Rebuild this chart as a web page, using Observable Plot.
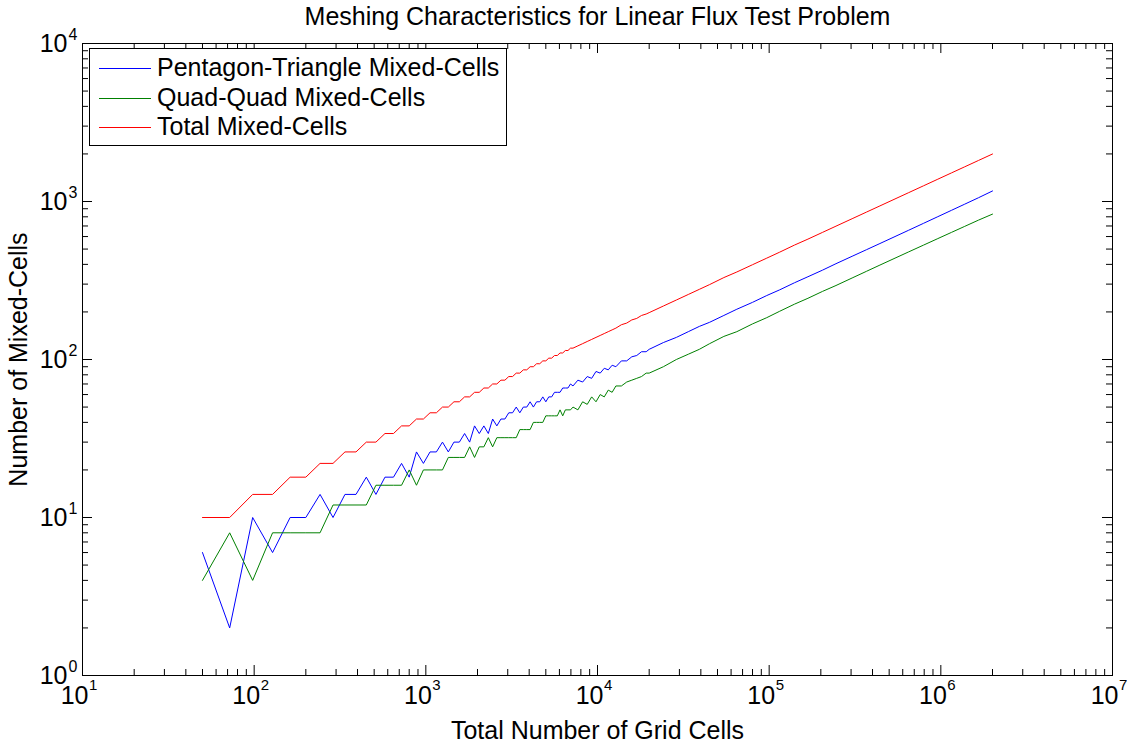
<!DOCTYPE html>
<html>
<head>
<meta charset="utf-8">
<script src="https://cdn.jsdelivr.net/npm/d3@7"></script>
<script src="https://cdn.jsdelivr.net/npm/@observablehq/plot@0.6"></script>
<style>
  html, body { margin: 0; padding: 0; background: #fff; }
  body { font-family: "Liberation Sans", Arial, sans-serif; }
  #wrap { position: relative; width: 1127px; height: 744px; overflow: hidden; }
  #legend { position: absolute; left: 89px; top: 48px; width: 416px; height: 96px;
            border: 1px solid #000; background: #fff; }
  .row { position: absolute; left: 0; height: 29px; width: 416px; }
  .row svg { position: absolute; left: 9px; top: 0; }
  .row span { position: absolute; left: 67px; top: -2px; font-size: 25px; line-height: 29px; color: #000; white-space: nowrap; }
</style>
</head>
<body>
<div id="wrap"></div>
<script>
// ---- data ----
const cells = [
  50,72,98,128,162,200,242,288,338,392,450,512,578,648,722,800,882,968,1058,1152,
  1250,1352,1458,1568,1682,1800,1922,2048,2178,2312,2450,2592,2738,2888,3042,3200,
  3362,3528,3698,3872,4050,4232,4418,4608,4802,5000,5202,5408,5618,5832,6050,6272,
  6498,6728,6962,7200,
  7688,8192,8712,9248,9800,10368,10952,11552,12168,12800,13778,14792,15842,16928,18050,19208,20000,
  24200,28800,33800,39200,45000,54450,64800,80000,96800,115200,140450,168200,204800,
  245000,304200,369800,441800,540800,649800,793800,952200,1155200,1377800,1656200,2000000
];
const pentTri = [
  6,2,10,6,10,10,14,10,14,14,18,14,18,18,22,18,26,22,26,26,30,26,30,30,34,30,38,34,38,34,42,38,
  42,42,46,46,50,46,50,50,54,50,54,54,58,54,58,58,62,62,62,66,66,66,70,68,
  74,72,78,76,84,82,88,86,92,90,98,98,104,106,112,112,116,
  128,138,150,162,172,190,208,230,254,276,306,334,368,404,450,496,542,600,658,728,798,880,962,1056,1166
];
const quadQuad = [
  4,8,4,8,8,8,8,12,12,12,12,16,16,16,16,20,16,20,20,20,20,24,24,24,24,28,24,28,28,32,28,32,
  32,32,32,32,32,36,36,36,36,40,40,40,40,44,44,44,44,44,48,44,48,48,48,50,
  48,54,52,58,54,60,58,64,62,68,68,72,74,76,78,82,82,
  90,100,108,116,126,140,150,168,184,202,224,244,270,294,328,362,396,438,480,530,580,638,696,762,832
];
const totalMixed = [
  10,10,14,14,18,18,22,22,26,26,30,30,34,34,38,38,42,42,46,46,50,50,54,54,58,58,62,62,66,66,70,70,
  74,74,78,78,82,82,86,86,90,90,94,94,98,98,102,102,106,106,110,110,114,114,118,118,
  122,126,130,134,138,142,146,150,154,158,166,170,178,182,190,194,198,
  218,238,258,278,298,330,358,398,438,478,530,578,638,698,778,858,938,1038,1138,1258,1378,1518,1658,1818,1998
];
const seriesNames = ["Pentagon-Triangle Mixed-Cells", "Quad-Quad Mixed-Cells", "Total Mixed-Cells"];
const seriesColors = ["#0000ff", "#008000", "#ff0000"];
const xMajor = [1e1, 1e2, 1e3, 1e4, 1e5, 1e6, 1e7];
const xExp = ["1", "2", "3", "4", "5", "6", "7"];
const yMajor = [1e0, 1e1, 1e2, 1e3, 1e4];
const yExp = ["0", "1", "2", "3", "4"];
const titleText = "Meshing Characteristics for Linear Flux Test Problem";
const xLabel = "Total Number of Grid Cells";
const yLabel = "Number of Mixed-Cells";

// minor log ticks (2..9 within each decade)
const minorOf = (majors) => majors.slice(0, -1).flatMap(d => [2,3,4,5,6,7,8,9].map(k => k * d));
const xMinor = minorOf(xMajor);
const yMinor = minorOf(yMajor);

const series = [pentTri, quadQuad, totalMixed];
const idx = d3.range(cells.length);

const W = 1127, H = 744, mL = 82, mR = 15, mT = 43, mB = 69;
const pw = W - mL - mR, ph = H - mT - mB;
const MAJ = 10, MIN = 6;
const font = '"Liberation Sans", Arial, sans-serif';

const lineMarks = series.map((s, k) =>
  Plot.line(idx, {x: i => cells[i], y: i => s[i], stroke: seriesColors[k], strokeWidth: 1})
);

const chart = Plot.plot({
  width: W, height: H,
  marginLeft: mL, marginRight: mR, marginTop: mT, marginBottom: mB,
  style: {fontFamily: font, background: "#fff", color: "#000", overflow: "visible"},
  x: {type: "log", domain: [10, 1e7], axis: null},
  y: {type: "log", domain: [1, 1e4], axis: null},
  marks: [
    ...lineMarks,
    Plot.frame({stroke: "#000", strokeWidth: 1}),
    // inward ticks, all four sides
    Plot.tickX(xMajor, {x: d => d, insetTop: ph - MAJ, stroke: "#000"}),
    Plot.tickX(xMajor, {x: d => d, insetBottom: ph - MAJ, stroke: "#000"}),
    Plot.tickX(xMinor, {x: d => d, insetTop: ph - MIN, stroke: "#000"}),
    Plot.tickX(xMinor, {x: d => d, insetBottom: ph - MIN, stroke: "#000"}),
    Plot.tickY(yMajor, {y: d => d, insetRight: pw - MAJ, stroke: "#000"}),
    Plot.tickY(yMajor, {y: d => d, insetLeft: pw - MAJ, stroke: "#000"}),
    Plot.tickY(yMinor, {y: d => d, insetRight: pw - MIN, stroke: "#000"}),
    Plot.tickY(yMinor, {y: d => d, insetLeft: pw - MIN, stroke: "#000"}),
    // x tick labels 10^k
    Plot.text(xMajor, {x: d => d, frameAnchor: "bottom", text: () => "10", textAnchor: "end",
      lineAnchor: "bottom", dx: 6, dy: 28, fontSize: 25, fill: "#000"}),
    Plot.text(xMajor, {x: d => d, frameAnchor: "bottom", text: (d, i) => xExp[i], textAnchor: "start",
      lineAnchor: "bottom", dx: 6.5, dy: 14, fontSize: 15, fill: "#000"}),
    // y tick labels 10^k
    Plot.text(yMajor, {y: d => d, frameAnchor: "left", text: () => "10", textAnchor: "end",
      lineAnchor: "middle", dx: -15, dy: 0, fontSize: 25, fill: "#000"}),
    Plot.text(yMajor, {y: d => d, frameAnchor: "left", text: (d, i) => yExp[i], textAnchor: "start",
      lineAnchor: "bottom", dx: -14, dy: -4, fontSize: 16, fill: "#000"}),
    // title and axis labels
    Plot.text([titleText], {frameAnchor: "top", text: d => d, textAnchor: "middle", lineAnchor: "bottom", dy: -19, fontSize: 25, fill: "#000"}),
    Plot.text([xLabel], {frameAnchor: "bottom", text: d => d, textAnchor: "middle", lineAnchor: "bottom", dy: 63, fontSize: 25, fill: "#000"}),
    Plot.text([yLabel], {frameAnchor: "left", text: d => d, textAnchor: "middle", lineAnchor: "middle", rotate: -90, dx: -64, fontSize: 25, fill: "#000"})
  ]
});

const wrap = document.getElementById("wrap");
wrap.appendChild(chart);

// legend (box in the upper-left of the axes)
const legend = document.createElement("div");
legend.id = "legend";
seriesNames.forEach((name, k) => {
  const row = document.createElement("div");
  row.className = "row";
  row.style.top = (6 + k * 29.5) + "px";
  row.innerHTML = `<svg width="54" height="29"><line x1="0" x2="52" y1="13.5" y2="13.5" stroke="${seriesColors[k]}" stroke-width="1"/></svg><span>${name}</span>`;
  legend.appendChild(row);
});
wrap.appendChild(legend);
</script>
</body>
</html>
